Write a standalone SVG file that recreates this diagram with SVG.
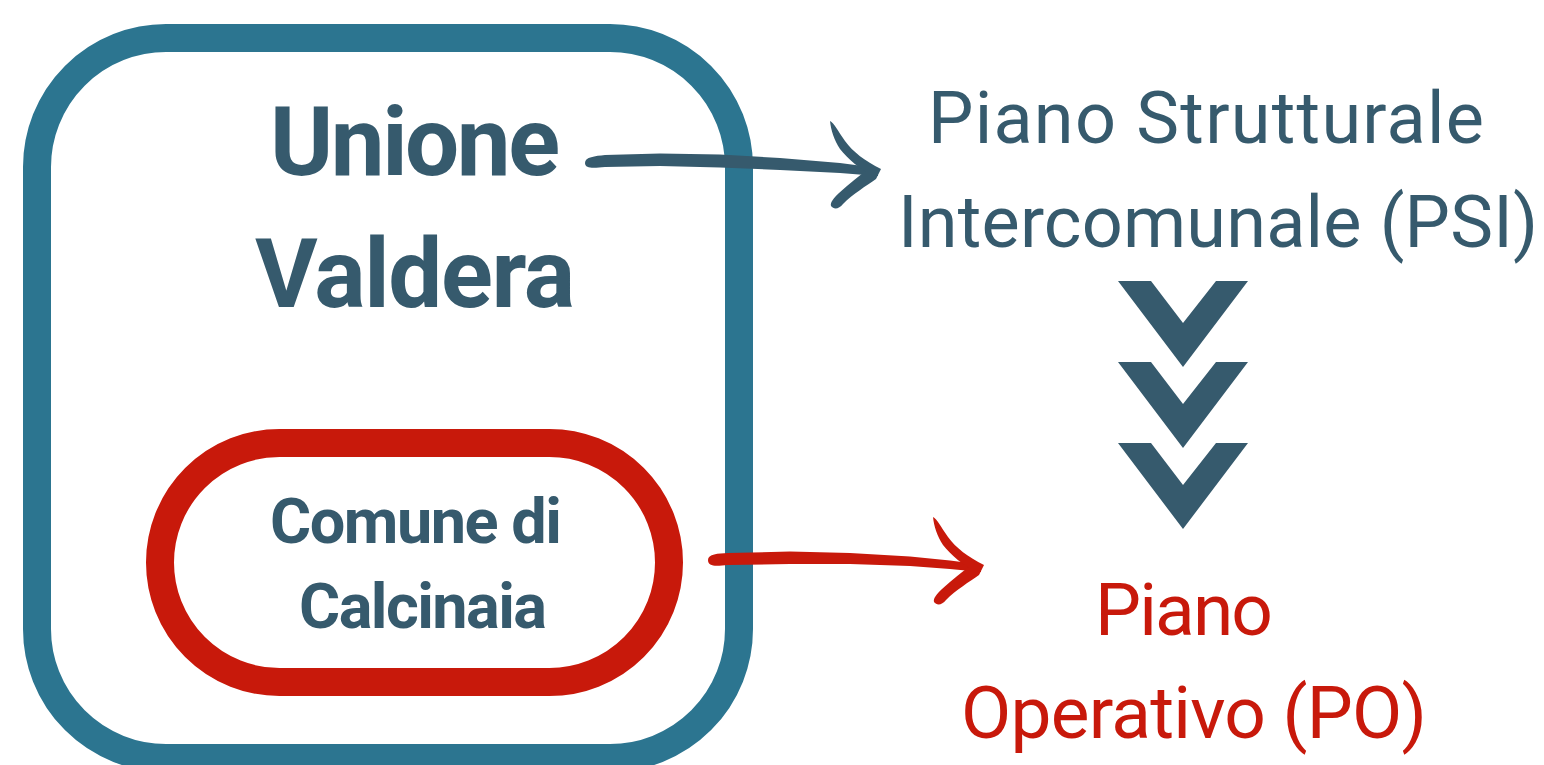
<svg xmlns="http://www.w3.org/2000/svg" width="1544" height="765" viewBox="0 0 1544 765">
  <style>
    .dark { fill: #365a6d; }
    .red { fill: #c8190b; }
    .bold { font-family: Roboto, "Liberation Sans", sans-serif; font-weight: 700; text-anchor: middle; }
    .light { font-family: Roboto, "Liberation Sans", sans-serif; font-weight: 400; text-anchor: middle; }
  </style>
  <defs>
    <path id="chev" d="M1118,281 L1151,281 L1183,323 L1216,281 L1248,281 L1183,367 Z"/>
    <path id="barbs" d="M830,121 C834,123 838,131 845,141 C853,152 865,161 881,169 L875,178 C860,169 848,159 840,149 C834,140 831,130 830,121 Z M881,169 L876,179 C866,186 853,194 843,204 C839,209 834,210 831,206 C830,202 834,198 839,193 C849,184 860,175 870,168 Z"/>
  </defs>
  <rect width="1544" height="765" fill="#ffffff"/>

  <g id="unione-valdera">
    <rect x="37" y="38" width="702" height="720" rx="129" ry="129" fill="none" stroke="#2c7590" stroke-width="28"/>
    <text class="bold dark" x="415" y="175" font-size="96" textLength="290" lengthAdjust="spacing">Unione</text>
    <text class="bold dark" x="415" y="307" font-size="96" textLength="320" lengthAdjust="spacing">Valdera</text>
  </g>

  <g id="comune-calcinaia">
    <rect x="160" y="443" width="509" height="239" rx="119.5" ry="119.5" fill="none" stroke="#c8190b" stroke-width="28"/>
    <text class="bold dark" x="416" y="543" font-size="63" textLength="292" lengthAdjust="spacing">Comune di</text>
    <text class="bold dark" x="423" y="628" font-size="63" textLength="248" lengthAdjust="spacing">Calcinaia</text>
  </g>

  <g id="psi">
    <text class="light dark" x="1206" y="143" font-size="72" textLength="556" lengthAdjust="spacing">Piano Strutturale</text>
    <text class="light dark" x="1218" y="247" font-size="72" textLength="640" lengthAdjust="spacing">Intercomunale (PSI)</text>
  </g>

  <g id="chevrons" class="dark">
    <use href="#chev"/>
    <use href="#chev" transform="translate(0,81)"/>
    <use href="#chev" transform="translate(0,162)"/>
  </g>

  <g id="po">
    <text class="light red" x="1184" y="635" font-size="73" textLength="178" lengthAdjust="spacing">Piano</text>
    <text class="light red" x="1194" y="738" font-size="73" textLength="466" lengthAdjust="spacing">Operativo (PO)</text>
  </g>

  <g id="connectors">
    <g id="arrow-psi" class="dark">
      <path d="M585,163 C585,157 595,156 605,155 L660,153.5 L720,154.5 L780,158 L840,163 L878,168 L878,176 L840,173 L780,170 L720,167.5 L660,166 L605,167 C594,168 585,169 585,163 Z"/>
      <use href="#barbs"/>
    </g>
    <g id="arrow-po" class="red">
      <path d="M708,560 C708,554 718,553.5 728,553 L790,551.5 L850,553 L910,556.5 L950,560.5 L981,564.5 L981,572 L950,569 L910,566 L850,564 L790,564 L728,565 C716,566 708,567 708,560 Z"/>
      <use href="#barbs" transform="translate(103,396)"/>
    </g>
  </g>
</svg>
